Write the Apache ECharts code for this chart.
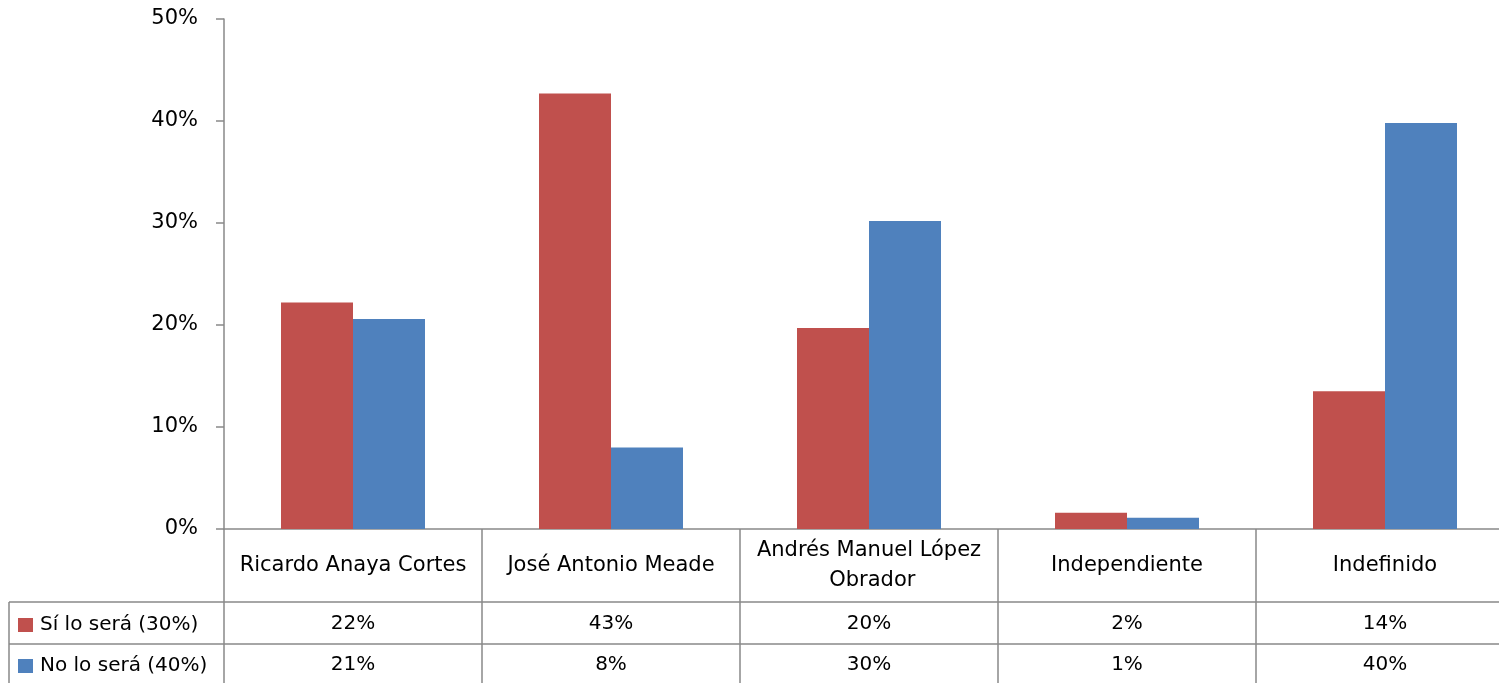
<!DOCTYPE html>
<html>
<head>
<meta charset="utf-8">
<script src="https://cdn.jsdelivr.net/npm/echarts@6/dist/echarts.min.js"></script>
<style>html,body{margin:0;padding:0;background:#fff}#c{width:1499px;height:683px}</style>
</head>
<body>
<div id="c"></div>
<script>
const categories = ['Ricardo Anaya Cortes', 'José Antonio Meade', 'Andrés Manuel López Obrador', 'Independiente', 'Indefinido'];
const seriesNames = ['Sí lo será (30%)', 'No lo será (40%)'];
const siValues = [22.2, 42.7, 19.7, 1.6, 13.5];
const noValues = [20.6, 8.0, 30.2, 1.1, 39.8];
const yTicks = [0, 10, 20, 30, 40, 50];

const FONT = 'DejaVu Sans';
const LINE = '#898989';
const chart = echarts.init(document.getElementById('c'), null, {renderer: 'canvas'});
const gridLeft = 224, gridTop = 19, gridBottom = 154, gridWidth = 1290;
const W = 1499, H = 683;
const row1 = 602, row2 = 644;

const tableAxis = (vals, margin) => ({
  type: 'category', data: categories, position: 'bottom', gridIndex: 0,
  axisLine: {show: false}, axisTick: {show: false},
  axisLabel: {interval: 0, margin: margin, verticalAlign: 'middle', fontFamily: FONT, fontSize: 20, color: '#000',
    formatter: (v, i) => Math.round(vals[i]) + '%'}
});

const legendFor = (name, top) => ({
  orient: 'vertical', left: 18, top: top, itemWidth: 15, itemHeight: 14,
  icon: 'rect', data: [name], selectedMode: false, padding: 0,
  textStyle: {fontFamily: FONT, fontSize: 20, color: '#000', padding: [0, 0, 0, 2]}
});

chart.setOption({
  animation: false,
  textStyle: {fontFamily: FONT},
  grid: {left: gridLeft, width: gridWidth, top: gridTop, bottom: gridBottom, containLabel: false, outerBoundsMode: 'none'},
  legend: [legendFor(seriesNames[0], 615), legendFor(seriesNames[1], 656)],
  xAxis: [
    {
      type: 'category', data: categories, position: 'bottom',
      axisLine: {lineStyle: {color: LINE, width: 1.5}},
      axisTick: {show: true, interval: 0, length: 154, lineStyle: {color: LINE, width: 1.5}},
      axisLabel: {interval: 0, margin: 37, verticalAlign: 'middle', fontFamily: FONT, fontSize: 21, color: '#000',
        width: 245, overflow: 'break', lineHeight: 30, align: 'center'}
    },
    tableAxis(siValues, 95),
    tableAxis(noValues, 136)
  ],
  yAxis: {
    type: 'value', min: 0, max: 50, interval: 10,
    axisLine: {show: true, lineStyle: {color: LINE, width: 1.5}},
    axisTick: {show: true, length: 8, lineStyle: {color: LINE, width: 1.5}},
    splitLine: {show: false},
    axisLabel: {margin: 26, fontFamily: FONT, fontSize: 21, color: '#000', formatter: '{value}%', padding: [0, 0, 6, 0]}
  },
  series: [
    {name: seriesNames[0], type: 'bar', data: siValues, barWidth: 72, barGap: '0%', itemStyle: {color: '#C0504D'}},
    {name: seriesNames[1], type: 'bar', data: noValues, barWidth: 72, barGap: '0%', itemStyle: {color: '#4F81BD'}}
  ],
  graphic: [
    {type: 'line', shape: {x1: 9, y1: row1, x2: W + 20, y2: row1}, style: {stroke: LINE, lineWidth: 1.5}, silent: true},
    {type: 'line', shape: {x1: 9, y1: row2, x2: W + 20, y2: row2}, style: {stroke: LINE, lineWidth: 1.5}, silent: true},
    {type: 'line', shape: {x1: 9, y1: row1, x2: 9, y2: H}, style: {stroke: LINE, lineWidth: 1.5}, silent: true}
  ]
});
</script>
</body>
</html>
